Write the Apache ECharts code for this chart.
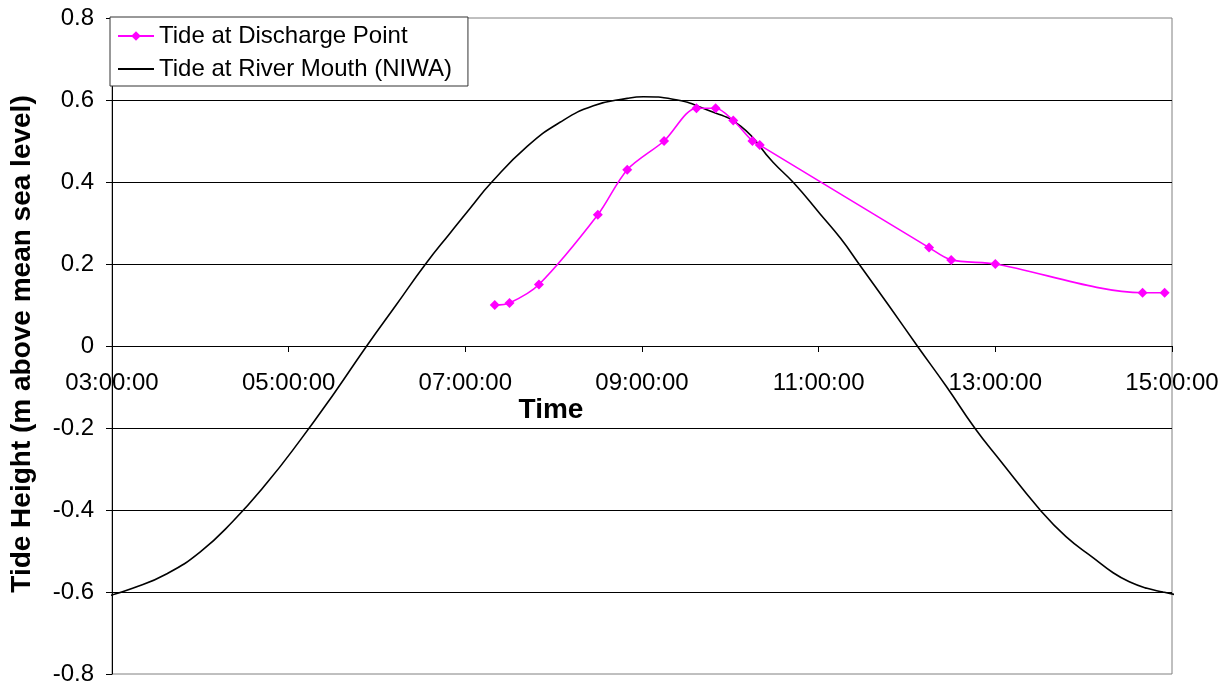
<!DOCTYPE html>
<html>
<head>
<meta charset="utf-8">
<script src="https://cdn.jsdelivr.net/npm/echarts@6/dist/echarts.min.js"></script>
<style>
  html, body { margin: 0; padding: 0; background: #fff; }
  #chart { width: 1229px; height: 686px; }
</style>
</head>
<body>
<div id="chart"></div>
<script>
// Tide at the discharge point (observed), time of day and height in m above MSL
const dischargeTimes = ['07:20', '07:30', '07:50', '08:30', '08:50', '09:15', '09:37', '09:50',
  '10:02', '10:15', '10:20', '12:15', '12:30', '13:00', '14:40', '14:55'];
const dischargeHeights = [0.10, 0.105, 0.15, 0.32, 0.43, 0.50, 0.58, 0.58,
  0.55, 0.50, 0.49, 0.24, 0.21, 0.20, 0.13, 0.13];

// Predicted tide at the river mouth (NIWA)
const mouthTimes = ['02:57', '03:14', '03:37', '04:00', '04:22', '04:45', '05:08', '05:30',
  '05:53', '06:13', '06:33', '06:50', '07:03', '07:18', '07:42', '08:04', '08:27', '08:50',
  '09:01', '09:21', '09:44', '10:07', '10:29', '10:43', '11:01', '11:15', '11:28', '11:48',
  '12:07', '12:27', '12:46', '13:03', '13:30', '13:48', '14:07', '14:20', '14:31', '14:43',
  '14:54', '15:03'];
const mouthHeights = [-0.61, -0.591, -0.556, -0.502, -0.428, -0.335, -0.229, -0.12,
  0.0, 0.10, 0.20, 0.277, 0.335, 0.40, 0.487, 0.545, 0.586, 0.604,
  0.608, 0.602, 0.576, 0.536, 0.448, 0.398, 0.322, 0.262, 0.197, 0.097,
  0.0, -0.10, -0.20, -0.278, -0.398, -0.465, -0.518, -0.553, -0.575, -0.591,
  -0.60, -0.607];

// Axis ticks (minutes after midnight)
const timeMin = 180, timeMax = 900, timeStep = 120;
const heightMin = -0.8, heightMax = 0.8, heightStep = 0.2;

const FONT = '"Liberation Sans", Arial, sans-serif';

function toMinutes(s) {
  const [h, m] = s.split(':').map(Number);
  return h * 60 + m;
}
function pad(n) { return (n < 10 ? '0' : '') + n; }
function clock(mins) {
  return pad(Math.floor(mins / 60)) + ':' + pad(Math.round(mins % 60)) + ':00';
}

const dischargeData = dischargeTimes.map((t, i) => [toMinutes(t), dischargeHeights[i]]);
const mouthData = mouthTimes.map((t, i) => [toMinutes(t), mouthHeights[i]]);

const GRID = { left: 112, right: 57, top: 18, bottom: 12 };
const plotHeight = 686 - GRID.top - GRID.bottom;
// the time axis sits on the zero line of the height axis
const zeroOffset = -plotHeight * (0 - heightMin) / (heightMax - heightMin);

const chart = echarts.init(document.getElementById('chart'), null, { renderer: 'canvas' });

chart.setOption({
  animation: false,
  backgroundColor: '#fff',
  textStyle: { fontFamily: FONT },
  grid: {
    left: GRID.left, right: GRID.right, top: GRID.top, bottom: GRID.bottom,
    containLabel: false, outerBoundsMode: 'none',
    show: true, borderColor: '#808080', borderWidth: 1, backgroundColor: 'transparent'
  },
  xAxis: {
    type: 'value',
    position: 'bottom',
    offset: zeroOffset,
    min: timeMin, max: timeMax, interval: timeStep,
    axisLine: { show: true, onZero: false, lineStyle: { color: '#000', width: 1 } },
    axisTick: { show: true, inside: false, length: 6, lineStyle: { color: '#000' } },
    axisLabel: {
      show: true, margin: 25, color: '#000', fontSize: 24, fontFamily: FONT,
      formatter: v => clock(v)
    },
    splitLine: { show: false }
  },
  yAxis: {
    type: 'value',
    min: heightMin, max: heightMax, interval: heightStep,
    axisLine: { show: true, onZero: false, lineStyle: { color: '#000', width: 1 } },
    axisTick: { show: true, inside: false, length: 6, lineStyle: { color: '#000' } },
    axisLabel: {
      margin: 18, color: '#000', fontSize: 24, fontFamily: FONT,
      formatter: v => (Math.abs(v) < 1e-9 ? '0' : String(+v.toFixed(1)))
    },
    splitLine: { show: true, showMinLine: false, showMaxLine: false, lineStyle: { color: '#000', width: 1 } }
  },
  legend: {
    orient: 'vertical',
    left: 110, top: 17,
    padding: [7, 16, 5, 7],
    itemGap: 9,
    itemWidth: 36, itemHeight: 12,
    backgroundColor: '#fff',
    borderColor: '#333', borderWidth: 1,
    textStyle: { color: '#000', fontSize: 24, fontFamily: FONT, lineHeight: 24 },
    data: [
      { name: 'Tide at Discharge Point' },
      { name: 'Tide at River Mouth (NIWA)', itemStyle: { opacity: 0 } }
    ]
  },
  series: [
    {
      name: 'Tide at River Mouth (NIWA)',
      type: 'line',
      data: mouthData,
      smooth: 0.5,
      showSymbol: false,
      symbol: 'none',
      clip: false,
      lineStyle: { color: '#000', width: 1.6 },
      itemStyle: { color: '#000' },
      z: 2
    },
    {
      name: 'Tide at Discharge Point',
      type: 'line',
      data: dischargeData,
      smooth: 0.3,
      symbol: 'diamond',
      symbolSize: 10,
      lineStyle: { color: '#ff00ff', width: 1.6 },
      itemStyle: { color: '#ff00ff' },
      z: 3
    }
  ],
  graphic: [
    {
      type: 'text',
      x: 551, y: 410,
      style: {
        text: 'Time', font: 'bold 28px ' + FONT, fill: '#000',
        textAlign: 'center', textVerticalAlign: 'middle'
      }
    },
    {
      type: 'text',
      x: 22, y: 344,
      rotation: Math.PI / 2,
      style: {
        text: 'Tide Height (m above mean sea level)', font: 'bold 28px ' + FONT, fill: '#000',
        textAlign: 'center', textVerticalAlign: 'middle'
      }
    }
  ]
});
</script>
</body>
</html>
